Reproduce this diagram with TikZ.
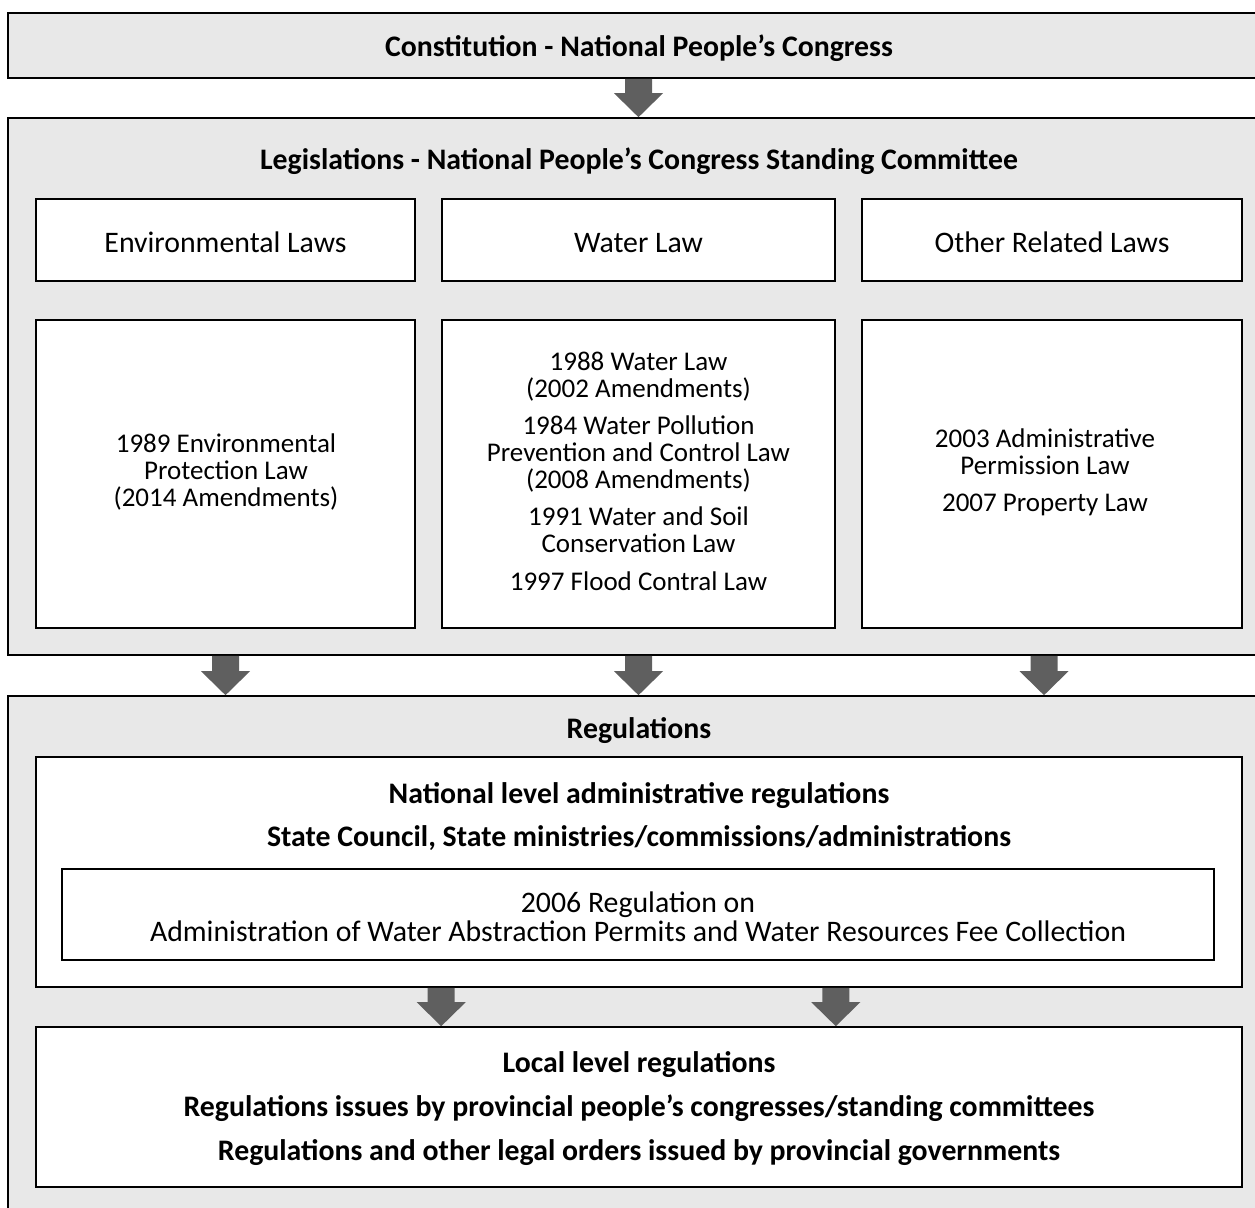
\documentclass[tikz,border=0pt]{standalone}
\usepackage{fontspec}
\setmainfont{Carlito}
\usetikzlibrary{calc}

\definecolor{boxgrey}{HTML}{E8E8E8}
\definecolor{arrowgrey}{HTML}{5F5F5F}

\tikzset{
  outerbox/.style={draw=black, line width=0.8pt, fill=boxgrey, inner sep=0pt},
  innerbox/.style={draw=black, line width=0.8pt, fill=white, inner sep=0pt, align=center,
    font=\fontsize{14.9pt}{13.5pt}\selectfont},
  headbox/.style={innerbox, minimum height=41pt, text height=13pt, text depth=0pt},
  lawbox/.style={innerbox, minimum height=154pt},
  lawtext/.style={inner sep=0pt, align=center, font=\fontsize{13.5pt}{13.5pt}\selectfont},
  title/.style={inner sep=0pt, align=center, font=\fontsize{14.9pt}{13.5pt}\selectfont\bfseries},
}

% block arrow pointing down, from #1 (top) to #2 (tip)
\newcommand{\blockarrow}[2]{%
  \fill[arrowgrey] ($(#1)+(-6.75pt,0pt)$) -- ($(#2)+(-6.75pt,12pt)$) -- ($(#2)+(-12.25pt,12pt)$)
    -- (#2) -- ($(#2)+(12.25pt,12pt)$) -- ($(#2)+(6.75pt,12pt)$) -- ($(#1)+(6.75pt,0pt)$) -- cycle;}

\begin{document}
\begin{tikzpicture}[x=0.5pt, y=-0.5pt]
    \useasboundingbox (0,0) rectangle (1255,1208);

    % Constitution
    \node[outerbox, minimum width=627pt, minimum height=32.5pt] (constit) at (635,45.5) {};
    \node[title] (constittext) at (639,48) {Constitution - National People’s Congress};

    % Legislations
    \node[outerbox, minimum width=627pt, minimum height=268.5pt] (legis) at (635,386.5) {};
    \node[title] (legistext) at (639,161) {Legislations - National People’s Congress Standing Committee};

    % Law headers
    \node[headbox, minimum width=189.5pt] (head1) at (225.5,240) {Environmental Laws};
    \node[headbox, minimum width=196.5pt] (head2) at (638.5,240) {Water Law};
    \node[headbox, minimum width=190pt] (head3) at (1052,240) {Other Related Laws};

    % Law lists
    \node[lawbox, minimum width=189.5pt] (law1) at (225.5,474) {};
    \node[lawbox, minimum width=196.5pt] (law2) at (638.5,474) {};
    \node[lawbox, minimum width=190pt] (law3) at (1052,474) {};
    \node[lawtext] (law1text) at (226,472)
        {1989 Environmental\\Protection Law\\(2014 Amendments)};
    \node[lawtext] (law2text) at (638.5,471)
        {1988 Water Law\\(2002 Amendments)\\[5pt]
         1984 Water Pollution\\Prevention and Control Law\\(2008 Amendments)\\[5pt]
         1991 Water and Soil\\Conservation Law\\[5.5pt]
         1997 Flood Contral Law};
    \node[lawtext] (law3text) at (1045,472)
        {2003 Administrative\\Permission Law\\[5pt]2007 Property Law};

    % Regulations
    \node[outerbox, minimum width=627pt, minimum height=259.5pt] (regs) at (635,955.5) {};
    \node[title] (regstext) at (639,730.5) {Regulations};

    % National level
    \node[innerbox, minimum width=603pt, minimum height=115pt] (natl) at (639,872) {};
    \node[title] (natltext) at (639,817) {National level administrative regulations\\[8pt]
        State Council, State ministries/commissions/administrations};
    \node[innerbox, minimum width=576pt, minimum height=45.5pt] (permit) at (638,914.5) {};
    \node[inner sep=0pt, align=center, font=\fontsize{14.9pt}{13.5pt}\selectfont] (permittext) at (638,916.5)
        {2006 Regulation on\\[1pt]Administration of Water Abstraction Permits and Water Resources Fee Collection};

    % Local level
    \node[innerbox, minimum width=603pt, minimum height=80pt] (local) at (639,1107) {};
    \node[title] (localtext) at (639,1108.5) {Local level regulations\\[8.5pt]
        Regulations issues by provincial people’s congresses/standing committees\\[8.5pt]
        Regulations and other legal orders issued by provincial governments};

    % Arrows
    \coordinate (arr3) at (1044,0);
    \blockarrow{head2 |- constit.south}{head2 |- legis.north}
    \blockarrow{law1 |- legis.south}{law1 |- regs.north}
    \blockarrow{law2 |- legis.south}{law2 |- regs.north}
    \blockarrow{arr3 |- legis.south}{arr3 |- regs.north}
    \blockarrow{head2.west |- natl.south}{head2.west |- local.north}
    \blockarrow{head2.east |- natl.south}{head2.east |- local.north}
\end{tikzpicture}
\end{document}
